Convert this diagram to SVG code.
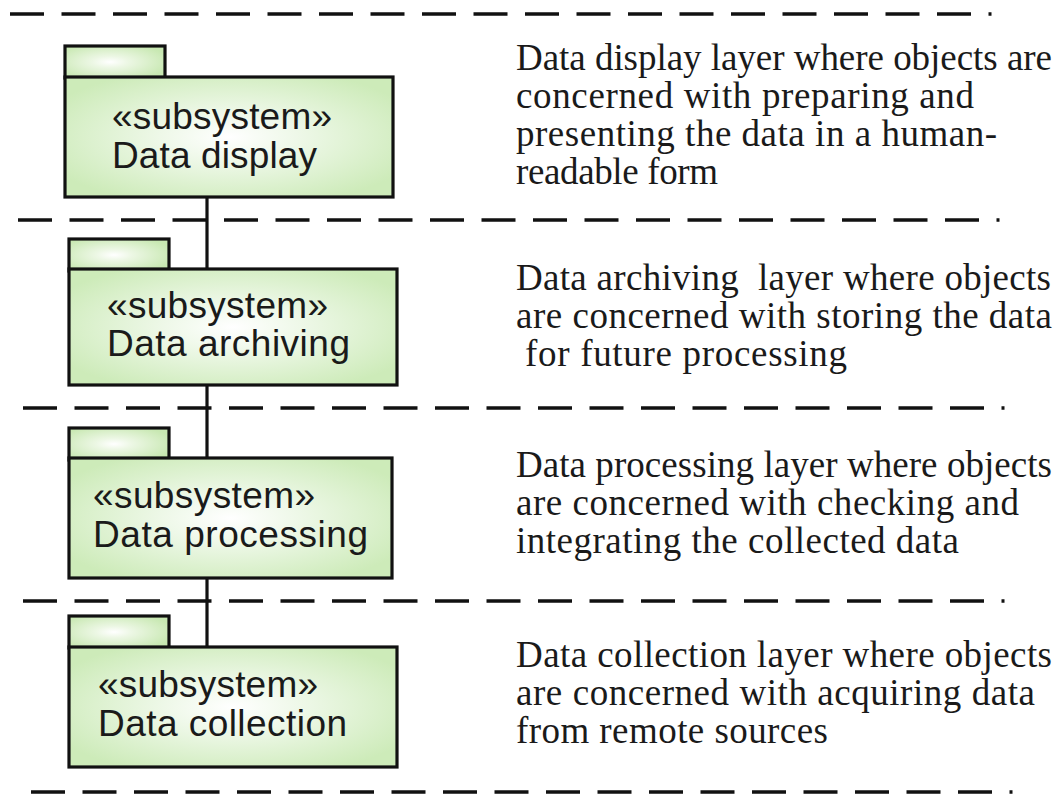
<svg xmlns="http://www.w3.org/2000/svg" width="1059" height="794" viewBox="0 0 1059 794">
<defs>
<radialGradient id="gBody" cx="0.5" cy="0.5" r="0.6">
<stop offset="0" stop-color="#ffffff"/>
<stop offset="0.35" stop-color="#eef8e8"/>
<stop offset="1" stop-color="#cdebb9"/>
</radialGradient>
<radialGradient id="gTab" cx="0.45" cy="0.5" r="0.6">
<stop offset="0" stop-color="#ffffff"/>
<stop offset="0.3" stop-color="#ecf7e4"/>
<stop offset="1" stop-color="#c8e8b2"/>
</radialGradient>
<style>
.sep{stroke:#111;stroke-width:3.6;fill:none;stroke-dasharray:34 17.5}
.tab{fill:url(#gTab);stroke:#111;stroke-width:3.2}
.body{fill:url(#gBody);stroke:#111;stroke-width:3.2}
.lbl{font-family:"Liberation Sans",Arial,sans-serif;font-size:37px;fill:#1a1a1a}
.desc{font-family:"Liberation Serif","Times New Roman",serif;font-size:37px;fill:#1a1a1a}
.conn{stroke:#111;stroke-width:3.2;fill:none}
</style>
</defs>
<rect width="1059" height="794" fill="#ffffff"/>
<g id="separators">
<path class="sep" d="M10 14H991.5"/>
<path class="sep" d="M18 220H999.5"/>
<path class="sep" d="M23 408H1004.5"/>
<path class="sep" d="M23 601H1004.5"/>
<path class="sep" d="M31 792H1012.5"/>
</g>
<g id="connectors">
<path class="conn" d="M207 185V269"/>
<path class="conn" d="M207 377V458"/>
<path class="conn" d="M207 573V647"/>
</g>
<g id="data-display">
<rect class="tab" x="65" y="46" width="100" height="32"/>
<rect class="body" x="65" y="77" width="328" height="120"/>
<text class="lbl" x="112" y="129" textLength="220">«subsystem»</text>
<text class="lbl" x="112" y="168" textLength="205">Data display</text>
</g>
<g id="data-archiving">
<rect class="tab" x="69" y="239" width="100" height="32"/>
<rect class="body" x="69" y="269" width="328" height="116"/>
<text class="lbl" x="107" y="318" textLength="221">«subsystem»</text>
<text class="lbl" x="107" y="356" textLength="243">Data archiving</text>
</g>
<g id="data-processing">
<rect class="tab" x="69" y="428" width="100" height="32"/>
<rect class="body" x="69" y="458" width="323" height="120"/>
<text class="lbl" x="93" y="508" textLength="222">«subsystem»</text>
<text class="lbl" x="93" y="547" textLength="275">Data processing</text>
</g>
<g id="data-collection">
<rect class="tab" x="69" y="616" width="100" height="32"/>
<rect class="body" x="69" y="647" width="328" height="120"/>
<text class="lbl" x="98" y="697" textLength="220">«subsystem»</text>
<text class="lbl" x="98" y="736" textLength="249">Data collection</text>
</g>
<g id="desc-display">
<text class="desc" x="516" y="70" textLength="536">Data display layer where objects are</text>
<text class="desc" x="516" y="108" textLength="458">concerned with preparing and</text>
<text class="desc" x="516" y="146" textLength="481">presenting the data in a human-</text>
<text class="desc" x="516" y="184" textLength="202">readable form</text>
</g>
<g id="desc-archiving">
<text class="desc" x="516" y="290" textLength="535" xml:space="preserve">Data archiving  layer where objects</text>
<text class="desc" x="516" y="328" textLength="536">are concerned with storing the data</text>
<text class="desc" x="525" y="366" textLength="322">for future processing</text>
</g>
<g id="desc-processing">
<text class="desc" x="516" y="477" textLength="536">Data processing layer where objects</text>
<text class="desc" x="516" y="515" textLength="503">are concerned with checking and</text>
<text class="desc" x="516" y="553" textLength="443">integrating the collected data</text>
</g>
<g id="desc-collection">
<text class="desc" x="516" y="667" textLength="536">Data collection layer where objects</text>
<text class="desc" x="516" y="705" textLength="519">are concerned with acquiring data</text>
<text class="desc" x="516" y="743" textLength="312">from remote sources</text>
</g>
</svg>
